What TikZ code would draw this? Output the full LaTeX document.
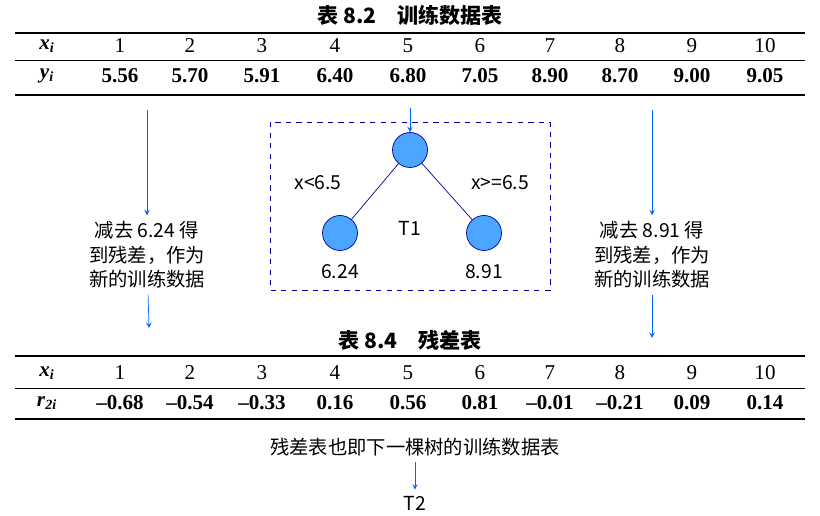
\documentclass[tikz,border=0pt]{standalone}
\usepackage{fontspec}
\setmainfont{Liberation Serif}
\setsansfont{Carlito}
\newfontfamily\cjk{Noto Sans CJK SC}
\usetikzlibrary{positioning,calc}

\tikzset{
  arr/.style={->,>=stealth,thin,blue!60!cyan},
  leaf/.style={circle,draw=blue!60!black,fill=blue!50!cyan!70,minimum size=0.7cm,inner sep=0},
  note/.style={font=\sffamily\cjk\fontsize{11}{14}\selectfont,align=center},
  cell/.style={font=\bfseries\fontsize{12}{14}\selectfont},
  ttl/.style={font=\cjk\bfseries\fontsize{12}{14}\selectfont}
}

\begin{document}
\begin{tikzpicture}[x=0.02cm,y=-0.02cm]
    \useasboundingbox (0,0) rectangle (820,516);

    % training data table
    \node [ttl] (title1) at (410,15) {表 8.2\quad 训练数据表};
    \draw [thick] (15,33) -- (805,33);
    \draw (15,60) -- (805,60);
    \draw [thick] (15,95) -- (805,95);
    \node [cell] (xa) at (47,46) {\textit{x}\textsubscript{\textit{i}}};
    \node [cell] (ya) at (47,76) {\textit{y}\textsubscript{\textit{i}}};
    \foreach \x/\v [count=\i] in {120/5.56,190/5.70,262/5.91,335/6.40,408/6.80,480/7.05,550/8.90,620/8.70,692/9.00,765/9.05} {
      \node [cell,font=\fontsize{12}{14}\selectfont] at (\x,46) {\i};
      \node [cell] at (\x,76) {\v};
    }

    % tree T1
    \draw [dashed,blue!60!black] (270,122) rectangle (550,290);
    \node [leaf] (root) at (410,150) {};
    \node [leaf] (left) at (340,233) {};
    \node [leaf] (right) at (484,233) {};
    \draw [blue!60!black] (root) -- (left);
    \draw [blue!60!black] (root) -- (right);
    \node [note] at (318,183) {x<6.5};
    \node [note] at (500,183) {x>=6.5};
    \node [note] at (410,228) {T1};
    \node [note] at (340,272) {6.24};
    \node [note] at (484,272) {8.91};
    \coordinate (rootin) at (410,108);
    \draw [arr] (rootin) -- (root);

    % residual notes
    \node [note] (nleft) at (147,255) {减去 6.24 得\\到残差，作为\\新的训练数据};
    \node [note] (nright) at (652,255) {减去 8.91 得\\到残差，作为\\新的训练数据};
    \coordinate (la) at (147,110);
    \coordinate (ra) at (652,110);
    \coordinate (lb) at (149,328);
    \coordinate (rb) at (652,338);
    \draw [arr] (la) -- (nleft);
    \draw [arr] (ra) -- (nright);
    \draw [arr] (nleft) -- (lb);
    \draw [arr] (nright) -- (rb);

    % residual table
    \node [ttl] (title2) at (410,340) {表 8.4\quad 残差表};
    \draw [thick] (15,356) -- (805,356);
    \draw (15,388) -- (805,388);
    \draw [thick] (15,419) -- (805,419);
    \node [cell] (xb) at (47,373) {\textit{x}\textsubscript{\textit{i}}};
    \node [cell] (rb2) at (47,403) {\textit{r}\textsubscript{\textit{2i}}};
    \foreach \x/\v [count=\i] in {120/\textendash0.68,190/\textendash0.54,262/\textendash0.33,335/0.16,408/0.56,480/0.81,550/\textendash0.01,620/\textendash0.21,692/0.09,765/0.14} {
      \node [cell,font=\fontsize{12}{14}\selectfont] at (\x,373) {\i};
      \node [cell] at (\x,403) {\v};
    }

    \node [note] (next) at (415,447) {残差表也即下一棵树的训练数据表};
    \node [note] (t2) at (415,503) {T2};
    \draw [arr] (next) -- (t2);
\end{tikzpicture}
\end{document}
